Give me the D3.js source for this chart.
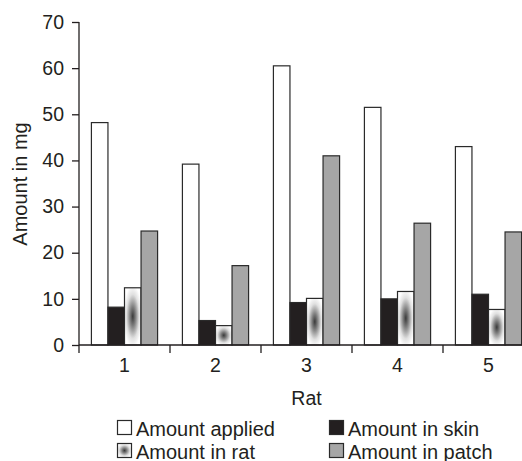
<!DOCTYPE html>
<html>
<head>
<meta charset="utf-8">
<script src="https://cdn.jsdelivr.net/npm/d3@7"></script>
<style>
  body { margin: 0; background: #fff; }
  svg text { font-family: "Liberation Sans", Arial, Helvetica, sans-serif; fill: #231f20; }
</style>
</head>
<body>
<div id="chart"></div>
<script>
"use strict";
// data
var rats = ["1", "2", "3", "4", "5"];
var seriesNames = ["Amount applied", "Amount in skin", "Amount in rat", "Amount in patch"];
var amountApplied = [48.2, 39.2, 60.5, 51.5, 43.0];
var amountSkin = [8.2, 5.3, 9.2, 10.0, 11.0];
var amountRat = [12.4, 4.2, 10.1, 11.6, 7.7];
var amountPatch = [24.7, 17.2, 41.0, 26.4, 24.5];
var yTicks = [0, 10, 20, 30, 40, 50, 60, 70];

var allSeries = [amountApplied, amountSkin, amountRat, amountPatch];

var W = 522, H = 461;
var svg = d3.select("#chart").append("svg").attr("width", W).attr("height", H);

// gradient used for the "rat" bars
var defs = svg.append("defs");
var grad = defs.append("radialGradient").attr("id", "ratFill")
  .attr("cx", 0.5).attr("cy", 0.5).attr("r", 0.55);
grad.append("stop").attr("offset", 0).attr("stop-color", "#3a3a3a");
grad.append("stop").attr("offset", 0.3).attr("stop-color", "#7e7e7e");
grad.append("stop").attr("offset", 0.7).attr("stop-color", "#e0e0e0");
grad.append("stop").attr("offset", 1).attr("stop-color", "#ffffff");

var fills = ["#ffffff", "#231f20", "url(#ratFill)", "#a6a6a6"];

// scales
var x = d3.scaleBand().domain(rats).range([79, 534]).paddingInner(0).paddingOuter(0);
var xs = d3.scaleBand().domain(d3.range(4)).range([0, x.bandwidth()]).paddingInner(0).paddingOuter(0.75);
var y = d3.scaleLinear().domain([0, 70]).range([345, 22]);

// bars
rats.forEach(function (r, i) {
  var g = svg.append("g").attr("transform", "translate(" + x(r) + ",0)");
  allSeries.forEach(function (vals, s) {
    g.append("rect")
      .attr("x", xs(s))
      .attr("y", y(vals[i]))
      .attr("width", xs.bandwidth())
      .attr("height", y(0) - y(vals[i]))
      .attr("fill", fills[s])
      .attr("stroke", "#2a2a2a")
      .attr("stroke-width", 1.2);
  });
});

// y axis
var yAxis = svg.append("g").attr("transform", "translate(79,0)")
  .call(d3.axisLeft(y).tickValues(yTicks).tickSize(7).tickPadding(8));
// x axis, ticks between categories
var xAxis = svg.append("g").attr("transform", "translate(0,345)")
  .call(d3.axisBottom(x).tickSize(0).tickPadding(13));
xAxis.selectAll(".tick").append("line")
  .attr("x1", -x.bandwidth() / 2).attr("x2", -x.bandwidth() / 2)
  .attr("y1", 0).attr("y2", 8)
  .attr("stroke", "#231f20").attr("stroke-width", 1.3);

[yAxis, xAxis].forEach(function (a) {
  a.selectAll(".domain").attr("stroke", "#231f20").attr("stroke-width", 1.3);
  a.selectAll(".tick line").attr("stroke", "#231f20").attr("stroke-width", 1.3);
  a.selectAll("text").style("font-size", "19.5px").attr("fill", "#231f20");
});
yAxis.select(".domain").attr("d", "M0,345V22");
xAxis.select(".domain").attr("d", "M79,0H534");

// axis titles
svg.append("text").attr("x", 306.5).attr("y", 405)
  .attr("text-anchor", "middle").style("font-size", "19.5px").text("Rat");
svg.append("text").attr("transform", "translate(27,184) rotate(-90)")
  .attr("text-anchor", "middle").style("font-size", "20px").text("Amount in mg");

// legend
var legendPos = [[117, 420], [329, 420], [117, 443], [329, 443]];
seriesNames.forEach(function (name, s) {
  var p = legendPos[s];
  svg.append("rect").attr("x", p[0] + 0.5).attr("y", p[1] + 0.5)
    .attr("width", 14).attr("height", 14)
    .attr("fill", fills[s]).attr("stroke", "#2a2a2a").attr("stroke-width", 1.2);
  svg.append("text").attr("x", p[0] + 19).attr("y", p[1] + 15.5)
    .style("font-size", "20px").text(name);
});
</script>
</body>
</html>
